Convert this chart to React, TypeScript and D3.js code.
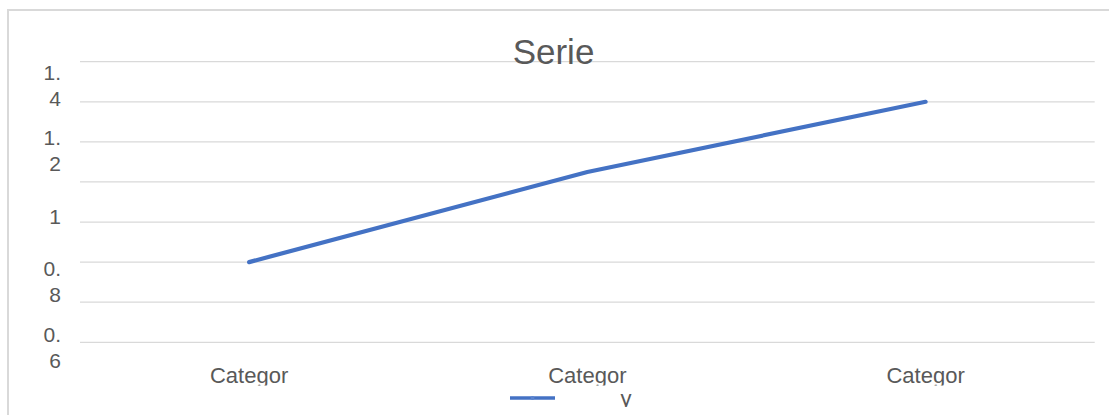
import React from "react";
import * as d3 from "d3";

// Chart data
const categories = ["Category 1", "Category 2", "Category 3"];
const seriesName = "y";
const seriesValues = [0.8, 1.025, 1.2];
const gridTicks = [0.6, 0.7, 0.8, 0.9, 1.0, 1.1, 1.2, 1.3];
const axisLabels = [0.6, 0.8, 1.0, 1.2, 1.4];
const chartTitle = "Serie";

const W = 1109;
const H = 415;
const FONT = "'Liberation Sans', Arial, sans-serif";
const TEXT = "#595959";
const GRID = "#d9d9d9";
const BLUE = "#4472C4";

// Truncates a label to the width the category slot allows
const clipLabel = (s: string) => s.slice(0, 7);

// Splits a tick label into wrapped lines ("1.4" -> "1." / "4")
const wrapTick = (v: number) => {
  const s = d3.format("~g")(v);
  const i = s.indexOf(".");
  return i < 0 ? [s] : [s.slice(0, i + 1), s.slice(i + 1)];
};

export default function App() {
  const plotLeft = 80;
  const plotRight = 1094.7;

  const x = d3
    .scalePoint<string>()
    .domain(categories)
    .range([plotLeft, plotRight])
    .padding(0.5);

  const y = d3.scaleLinear().domain([0.6, 1.3]).range([342.3, 61.7]);
  // wrapped axis labels are spread over their own vertical band
  const yLabel = d3.scaleLinear().domain([0.6, 1.4]).range([347, 85]);

  const line = d3
    .line<number>()
    .x((_, i) => x(categories[i]) as number)
    .y((d) => y(d));

  const lineH = 26;

  return (
    <svg
      width={W}
      height={H}
      style={{ position: "absolute", left: 0, top: 0, background: "#fff" }}
      fontFamily={FONT}
    >
      <defs>
        <clipPath id="catClip">
          <rect x={0} y={0} width={W} height={385.5} />
        </clipPath>
        <clipPath id="legClip">
          <rect x={0} y={0} width={W} height={407} />
        </clipPath>
      </defs>

      {/* chart frame */}
      <path
        d={`M8,${H} L8,10 L${W},10`}
        fill="none"
        stroke={GRID}
        strokeWidth={2}
      />

      {/* horizontal gridlines */}
      {gridTicks.map((t) => (
        <line
          key={t}
          x1={plotLeft}
          x2={plotRight}
          y1={y(t)}
          y2={y(t)}
          stroke={GRID}
          strokeWidth={1.3}
        />
      ))}

      {/* title */}
      <text
        x={553.5}
        y={64}
        textAnchor="middle"
        fontSize={35}
        fill={TEXT}
      >
        {chartTitle}
      </text>

      {/* value axis labels */}
      {axisLabels.map((v) => {
        const parts = wrapTick(v);
        const cy = yLabel(v);
        const top = cy - ((parts.length - 1) * lineH) / 2;
        return (
          <text
            key={v}
            textAnchor="end"
            fontSize={21}
            fill={TEXT}
          >
            {parts.map((p, i) => (
              <tspan key={i} x={61} y={top + i * lineH + 7.5}>
                {p}
              </tspan>
            ))}
          </text>
        );
      })}

      {/* category labels */}
      <g clipPath="url(#catClip)">
        {categories.map((c) => (
          <text
            key={c}
            x={x(c)}
            y={383}
            textAnchor="middle"
            fontSize={22}
            fill={TEXT}
          >
            {clipLabel(c)}
          </text>
        ))}
      </g>

      {/* series line */}
      <path
        d={line(seriesValues) || ""}
        fill="none"
        stroke={BLUE}
        strokeWidth={4.2}
        strokeLinecap="round"
        strokeLinejoin="round"
      />

      {/* legend */}
      <g>
        <line
          x1={510}
          x2={555}
          y1={398}
          y2={398}
          stroke={BLUE}
          strokeWidth={3.6}
        />
        <circle cx={532.5} cy={398} r={2} fill="#5b84cf" />
        <g clipPath="url(#legClip)">
          <text x={626} y={406} textAnchor="middle" fontSize={22} fill={TEXT}>
            {seriesName}
          </text>
        </g>
      </g>
    </svg>
  );
}
